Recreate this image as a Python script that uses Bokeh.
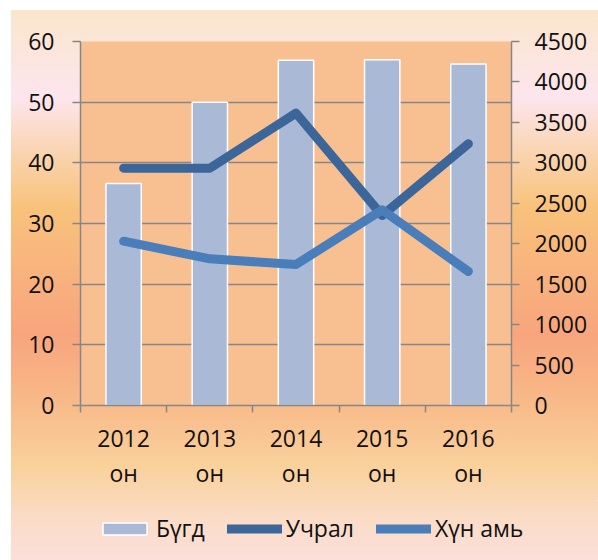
from bokeh.plotting import figure
from bokeh.layouts import column
from bokeh.models import Range1d, LinearAxis, FixedTicker, Legend, LegendItem
from bokeh.embed import file_html
from bokeh.resources import INLINE

# ---- data ----
years = ["2012", "2013", "2014", "2015", "2016"]
year_suffix = "он"
bugd = [36.6, 50.0, 56.9, 57.0, 56.3]          # bars, left axis
uchral = [2934, 2934, 3614, 2349, 3235]        # line, right axis
hun_ami = [2031, 1813, 1743, 2419, 1657]       # line, right axis
left_ticks = [0, 10, 20, 30, 40, 50, 60]
right_ticks = [0, 500, 1000, 1500, 2000, 2500, 3000, 3500, 4000, 4500]
series_names = ["Бүгд", "Учрал", "Хүн амь"]

FONT = "Open Sans"
FS = "23px"
TXT = "#111111"
AX = "#868686"
BAR = "#A9B9D6"
C_U = "#3C6699"
C_H = "#4A7EBB"

xs = list(range(1, len(years) + 1))
boundaries = [x - 0.5 for x in xs] + [xs[-1] + 0.5]

p = figure(width=598, height=500, output_backend="svg", toolbar_location=None,
           x_range=Range1d(boundaries[0], boundaries[-1]),
           y_range=Range1d(left_ticks[0], left_ticks[-1]),
           min_border_left=80, min_border_right=87, min_border_top=41, min_border_bottom=95)
p.frame_align = False
p.border_fill_color = None
p.background_fill_color = "#F8C090"
p.outline_line_color = None

p.extra_y_ranges = {"r": Range1d(right_ticks[0], right_ticks[-1])}

# x axis
xa = p.xaxis[0]
xa.ticker = FixedTicker(ticks=xs, minor_ticks=boundaries)
xa.major_label_overrides = {x: f"{y}\n{year_suffix}" for x, y in zip(xs, years)}
xa.major_tick_line_color = None
xa.minor_tick_line_color = AX
xa.minor_tick_line_width = 1.5
xa.minor_tick_in = 0
xa.minor_tick_out = 7
xa.axis_line_color = AX
xa.axis_line_width = 1.5
xa.major_label_text_font = FONT
xa.major_label_text_font_size = FS
xa.major_label_text_color = TXT
xa.major_label_text_line_height = 1.1
xa.major_label_standoff = 9

# left axis
ya = p.yaxis[0]
ya.ticker = FixedTicker(ticks=left_ticks)
ya.minor_tick_line_color = None
ya.major_tick_in = 0
ya.major_tick_out = 8
ya.major_tick_line_color = AX
ya.major_tick_line_width = 1.5
ya.axis_line_color = AX
ya.axis_line_width = 1.5
ya.major_label_text_font = FONT
ya.major_label_text_font_size = FS
ya.major_label_text_color = TXT
ya.major_label_standoff = 18

# right axis
ra = LinearAxis(y_range_name="r", ticker=FixedTicker(ticks=right_ticks))
ra.minor_tick_line_color = None
ra.major_tick_in = 0
ra.major_tick_out = 8
ra.major_tick_line_color = AX
ra.major_tick_line_width = 1.5
ra.axis_line_color = AX
ra.axis_line_width = 1.5
ra.major_label_text_font = FONT
ra.major_label_text_font_size = FS
ra.major_label_text_color = TXT
ra.major_label_standoff = 15
p.add_layout(ra, "right")

p.xgrid.visible = False
p.ygrid.ticker = FixedTicker(ticks=left_ticks)
p.ygrid.grid_line_color = AX
p.ygrid.grid_line_width = 1.5

# marks
bar_style = dict(width=0.41, fill_color=BAR, line_color="white", line_width=1.5)
u_style = dict(line_width=9, line_color=C_U, line_cap="round", line_join="round")
h_style = dict(line_width=9, line_color=C_H, line_cap="round", line_join="round")
p.vbar(x=xs, top=bugd, **bar_style)
p.line(xs, uchral, y_range_name="r", **u_style)
p.line(xs, hun_ami, y_range_name="r", **h_style)

# legend strip (separate figure so the legend is not clipped);
# its proxy renderers use the same data but lie outside that strip's ranges
lp = figure(width=598, height=60, output_backend="svg", toolbar_location=None,
            x_range=Range1d(-3, -2), y_range=Range1d(-3, -2),
            x_axis_location=None, y_axis_location=None,
            min_border_left=0, min_border_right=0, min_border_top=0, min_border_bottom=0)
lp.frame_align = False
lp.grid.visible = False
lp.border_fill_color = None
lp.background_fill_color = None
lp.outline_line_color = None
lr_bar = lp.vbar(x=xs, top=bugd, **bar_style)
lr_u = lp.line(xs, uchral, **u_style)
lr_h = lp.line(xs, hun_ami, **h_style)

legend = Legend(items=[LegendItem(label=series_names[0], renderers=[lr_bar]),
                       LegendItem(label=series_names[1], renderers=[lr_u]),
                       LegendItem(label=series_names[2], renderers=[lr_h])],
                orientation="horizontal", location=(97, 16),
                glyph_width=55, glyph_height=15, label_standoff=4, spacing=22,
                padding=0, margin=0, border_line_color=None, background_fill_alpha=0,
                label_text_font=FONT, label_text_font_size=FS, label_text_color=TXT)
lp.add_layout(legend, "center")

layout = column(p, lp, spacing=0,
                styles={"background": "linear-gradient(to bottom, #FAE6CC 0%, #FDE5EE 16%, #FAD6B6 25%, "
                                      "#F8C27B 36%, #F8B17D 49%, #F8A57D 59%, #F8B787 70%, #F9D19B 83%, "
                                      "#FADCC5 92%, #FBDFDA 100%) 11px 10px / calc(100% - 11px) calc(100% - 10px) no-repeat, #ffffff"})

open("out.html", "w").write(file_html(layout, INLINE))
